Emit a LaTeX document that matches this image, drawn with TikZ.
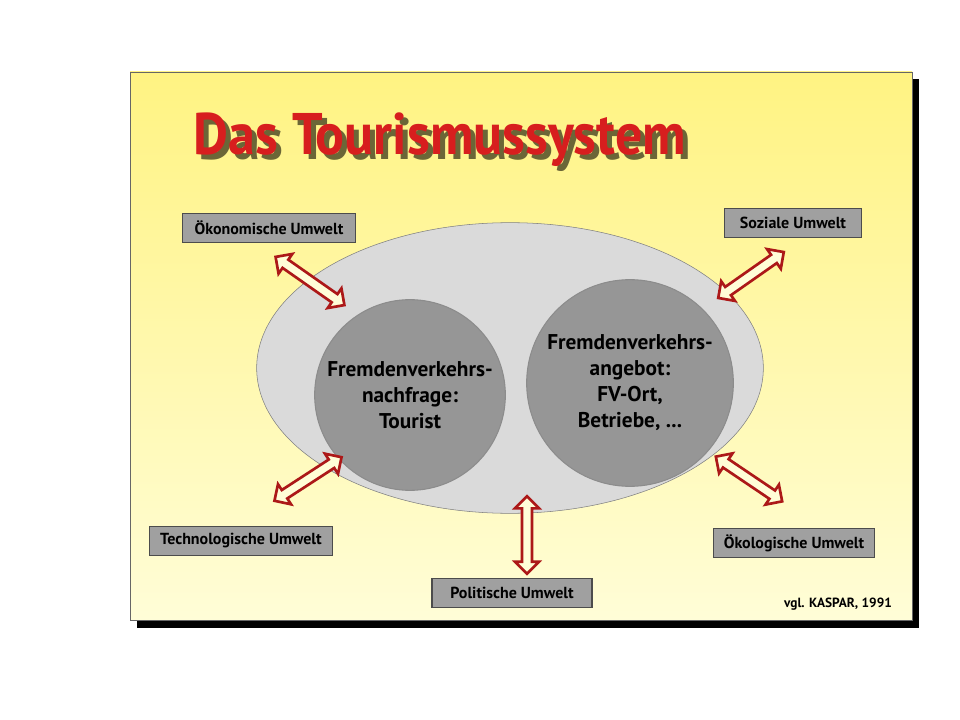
\documentclass[tikz,border=0pt]{standalone}
\usepackage{fontspec}
\setmainfont{PT Sans}
\usetikzlibrary{shapes.arrows,shapes.geometric,shadows}
\definecolor{frameyellow}{RGB}{255,243,130}
\definecolor{paleyellow}{RGB}{255,253,215}
\definecolor{boxgray}{RGB}{160,160,160}
\definecolor{circgray}{RGB}{150,150,150}
\definecolor{ellgray}{RGB}{218,218,218}
\definecolor{titlered}{RGB}{215,30,30}
\tikzset{
  umwelt/.style={draw=black!70,fill=boxgray,line width=0.8pt,font=\bfseries\fontsize{12}{14}\selectfont,inner sep=0pt,minimum height=21.5pt},
  wechsel/.style={double arrow,draw=titlered!80!black,fill=paleyellow,line width=2pt,minimum width=18pt,inner sep=2.6pt,double arrow head extend=5pt,shape border rotate=0},
  kreis/.style={circle,draw=black!45,fill=circgray,line width=0.8pt,align=center,font=\bfseries\fontsize{16}{19.5}\selectfont}
}
\begin{document}
\begin{tikzpicture}[x=0.75pt,y=0.75pt,yscale=-1,xscale=1]
\useasboundingbox (0,0) rectangle (960,720);
%Frame
\fill[black] (137,79) rectangle (919,628);
\shade[top color=frameyellow,bottom color=paleyellow,draw=black!60] (130,72) rectangle (912,620);
%Title
\node[font=\bfseries\fontsize{44}{50}\selectfont,text=black!30!frameyellow!60!black,xscale=0.92] at (445,145) {Das Tourismussystem};
\node[font=\bfseries\fontsize{44}{50}\selectfont,text=titlered,xscale=0.92] (titel) at (440,140) {Das Tourismussystem};
%Ellipse and circles
\node[ellipse,draw=black!50,fill=ellgray,minimum width=380pt,minimum height=218pt] (system) at (510,368) {};
\node[kreis,minimum size=143pt] (nachfrage) at (410,395) {Fremdenverkehrs-\\nachfrage:\\Tourist};
\node[kreis,minimum size=155pt] (angebot) at (630,383) {Fremdenverkehrs-\\angebot:\\FV-Ort,\\Betriebe, ...};
%Environments
\node[umwelt,minimum width=130pt] (oekonomie) at (269,228) {Ökonomische Umwelt};
\node[umwelt,minimum width=103pt] (soziales) at (793,223) {Soziale Umwelt};
\node[umwelt,minimum width=137pt] (technik) at (241,541) {Technologische Umwelt};
\node[umwelt,minimum width=121pt] (oekologie) at (794,543) {Ökologische Umwelt};
\node[umwelt,minimum width=120pt] (politik) at (512,593) {Politische Umwelt};
%Arrows
\node[wechsel,minimum height=63pt,rotate=-35] at (310,281) {};
\node[wechsel,minimum height=60pt,rotate=35] at (751,275) {};
\node[wechsel,minimum height=60pt,rotate=33] at (308,479) {};
\node[wechsel,minimum height=60pt,rotate=-34] at (749,479) {};
\node[wechsel,minimum height=58pt,rotate=90] at (527,535) {};
%Source
\node[font=\bfseries\fontsize{10}{12}\selectfont] (quelle) at (838,604) {vgl. KASPAR, 1991};
\end{tikzpicture}
\end{document}
